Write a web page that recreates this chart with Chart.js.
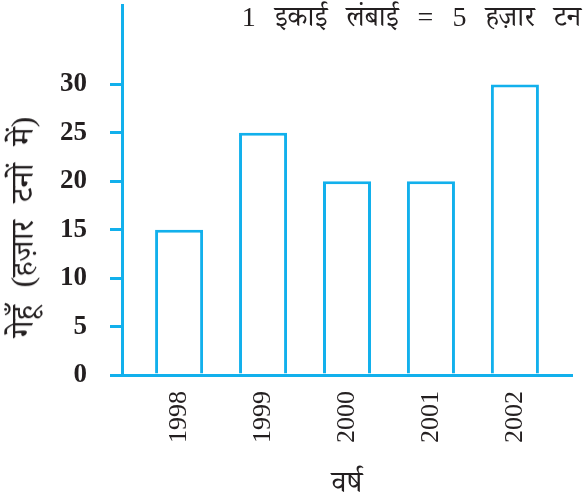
<!DOCTYPE html>
<html>
<head>
<meta charset="utf-8">
<script src="https://cdn.jsdelivr.net/npm/chart.js@4.4.0/dist/chart.umd.min.js"></script>
<style>
  html, body { margin: 0; padding: 0; background: #fff; }
  #wrap { position: relative; width: 584px; height: 502px; overflow: hidden; }
  #chart { position: absolute; left: 0; top: 0; }
  .txt { font-family: "Liberation Serif", "Noto Serif Devanagari", "Noto Sans Devanagari", "Lohit Devanagari", serif; color: #231f20; white-space: nowrap; position: absolute; }
  #note { top: 0px; right: 3px; font-size: 28px; word-spacing: 12px; }
  #ytitle { left: 28px; top: 227px; font-size: 32px; word-spacing: 10px; transform: translate(-50%, -50%) rotate(-90deg); }
</style>
</head>
<body>
<div id="wrap">
  <canvas id="chart" width="584" height="502"></canvas>
  <div id="note" class="txt">1 इकाई लंबाई = 5 हज़ार टन</div>
  <div id="ytitle" class="txt">गेहूँ (हज़ार टनों में)</div>
</div>
<script>
// Wheat production per year, in thousand tonnes
const years = ['1998', '1999', '2000', '2001', '2002'];
const wheat = [15, 25, 20, 20, 30];
const yTickValues = [0, 5, 10, 15, 20, 25, 30];

const CYAN = '#12b0ec';
const INK = '#231f20';
const FONT = '"Liberation Serif", "Noto Serif Devanagari", "Noto Sans Devanagari", serif';

new Chart(document.getElementById('chart'), {
  type: 'bar',
  data: {
    datasets: [{
      data: years.map((_, i) => ({ x: i, y: wheat[i] })),
      backgroundColor: '#ffffff',
      borderColor: CYAN,
      borderWidth: 3,
      borderSkipped: 'bottom',
      categoryPercentage: 1,
      barPercentage: 0.572
    }]
  },
  options: {
    responsive: false,
    animation: false,
    events: [],
    layout: { padding: { top: 5, right: 12, left: 0, bottom: 0 } },
    plugins: { legend: { display: false }, tooltip: { enabled: false } },
    scales: {
      x: {
        type: 'linear',
        offset: false,
        min: -0.68,
        max: 4.68,
        afterBuildTicks: s => { s.ticks = years.map((_, i) => ({ value: i })); },
        afterFit: s => { s.height = 127; s.paddingLeft = 0; s.paddingRight = 0; },
        grid: { display: false, drawTicks: false, offset: false },
        border: { color: CYAN, width: 3 },
        ticks: {
          autoSkip: false,
          minRotation: 90,
          maxRotation: 90,
          padding: 16,
          color: INK,
          font: { family: FONT, size: 26 },
          callback: v => years[v]
        },
        title: {
          display: true,
          text: 'वर्ष',
          color: INK,
          font: { family: FONT, size: 30 },
          padding: { top: 0, bottom: 0 }
        }
      },
      y: {
        min: 0,
        max: 38.2,
        afterBuildTicks: s => { s.ticks = yTickValues.map(v => ({ value: v })); },
        afterFit: s => { s.width = 122; s.paddingTop = 0; s.paddingBottom = 0; },
        grid: { drawOnChartArea: false, drawTicks: true, tickLength: 12, color: CYAN, lineWidth: 3 },
        border: { color: CYAN, width: 3 },
        ticks: {
          padding: 23,
          color: INK,
          font: { family: FONT, size: 27, weight: 'bold' }
        }
      }
    }
  }
});
</script>
</body>
</html>
